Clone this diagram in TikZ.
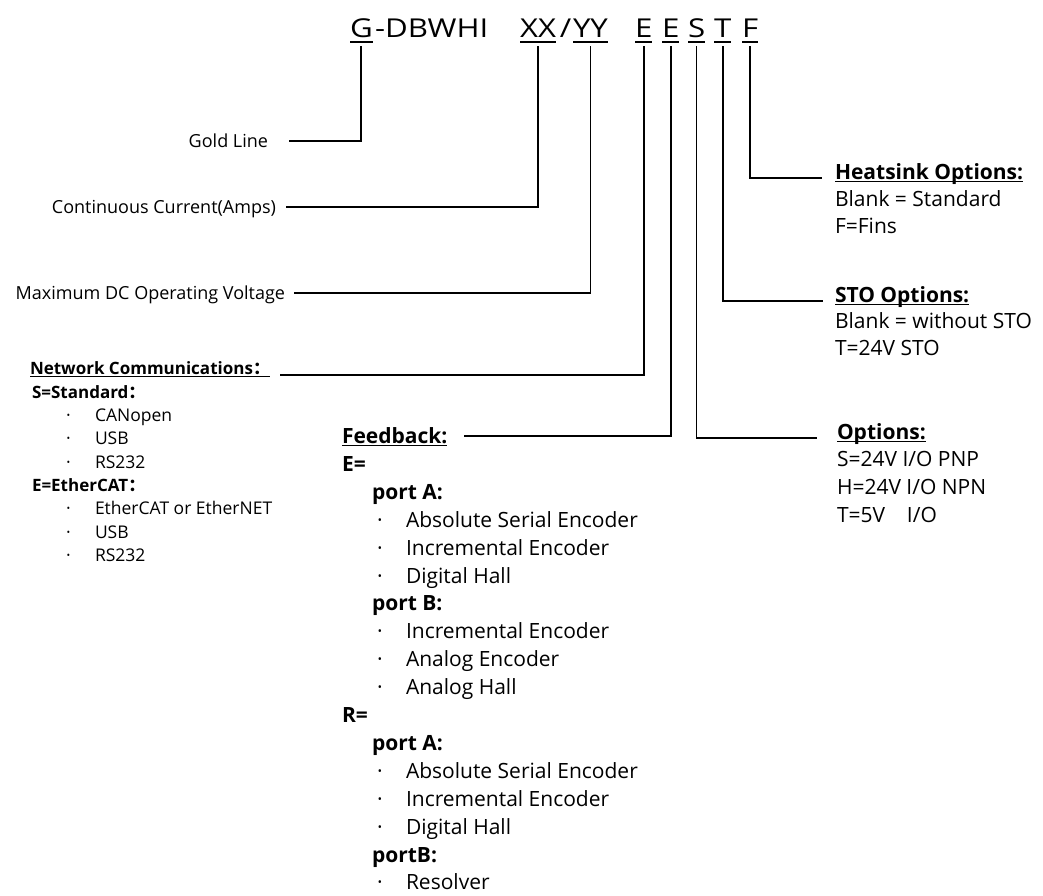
\documentclass[tikz,border=0pt]{standalone}
\usepackage{fontspec}
\setmainfont{Open Sans}
\newfontfamily\hdrfont[FakeStretch=1.2]{Open Sans}
\newfontfamily\cjk{Noto Sans CJK SC}
\usetikzlibrary{calc}
\tikzset{
  every node/.style={inner sep=0pt, outer sep=0pt},
  hdr/.style={font=\hdrfont\fontsize{26}{30}\selectfont, anchor=base west, text depth=5pt, text height=19pt},
  lbl/.style={font=\fontsize{18}{22}\selectfont, anchor=east, text height=13pt, text depth=0pt},
  bigtxt/.style={font=\fontsize{21}{25}\selectfont, anchor=west, text height=15pt, text depth=0pt},
  bigbold/.style={bigtxt, font=\fontsize{21}{25}\selectfont\bfseries},
  smltxt/.style={font=\fontsize{17.5}{21}\selectfont, anchor=west, text height=12.5pt, text depth=0pt},
  smlbold/.style={smltxt, font=\fontsize{17}{21}\selectfont\bfseries},
  conn/.style={line width=1.8pt, black},
  hul/.style={line width=1.8pt},
  tul/.style={line width=1.2pt},
}
\begin{document}
\begin{tikzpicture}[x=1pt,y=-1pt]
\useasboundingbox (0,0) rectangle (1043,895);

% ---- header code ----
\node[hdr] (G)   at (350,37) {G};
\node[hdr] (dbw) at (375,37) {-DBWHI};
\node[hdr] (XX)  at (520,37) {XX};
\node[hdr, anchor=base] (sl) at (565.5,37) {/};
\node[hdr] (YY)  at (573,37) {YY};
\node[hdr] (E1)  at (635,37) {E};
\node[hdr] (E2)  at (662,37) {E};
\node[hdr] (S)   at (688,37) {S};
\node[hdr] (T)   at (714,37) {T};
\node[hdr] (F)   at (742,37) {F};
\foreach \n in {G,XX,YY,E1,E2,S,T,F}
  \draw[hul] (\n.south west) -- (\n.south east);

% ---- left labels ----
\node[lbl] (gold) at (268,141) {Gold Line};
\node[lbl] (cur)  at (276,207) {Continuous Current(Amps)};
\node[lbl] (volt) at (285,293) {Maximum DC Operating Voltage};
\draw[conn] ([yshift=-4pt]G.south)  |- ([xshift=21pt]gold.east);
\draw[conn] ([yshift=-4pt]XX.south) |- ([xshift=10pt]cur.east);
\draw[conn] ([yshift=-4pt]YY.south) |- ([xshift=9pt]volt.east);

% ---- network communications ----
\node[smlbold] (net) at (30,368) {Network Communications\cjk\bfseries：};
\draw[tul] ([yshift=-2pt]net.south west) -- ([yshift=-2pt]net.south east);
\draw[conn] ([yshift=-4pt]E1.south) |- ([xshift=10pt,yshift=-7pt]net.east);
\node[smlbold] (nstd) at (32,392) {S=Standard\cjk\bfseries：};
\node[smlbold] (neth) at (32,485.5) {E=EtherCAT\cjk\bfseries：};
\foreach \i/\y/\t in {1/415.3/CANopen, 2/438.6/USB, 3/462/RS232,
                      4/508.6/EtherCAT or EtherNET, 5/532/USB, 6/555.3/RS232} {
  \node[smltxt] (nb\i) at (66,\y) {·};
  \node[smltxt] (ni\i) at (95,\y) {\t};
}

% ---- feedback ----
\node[bigbold] (fb) at (342,436) {Feedback:};
\draw[tul] ([yshift=-2pt]fb.south west) -- ([yshift=-2pt]fb.south east);
\draw[conn] ([yshift=-4pt]E2.south) |- ([xshift=17pt]fb.east);
\foreach \k/\t in {1/E=, 10/R=}
  \node[bigbold] (fh\k) at (342,436+27.9*\k) {\t};
\foreach \k/\t in {2/port A:, 6/port B:, 11/port A:, 15/portB:}
  \node[bigbold] (fp\k) at (372,436+27.9*\k) {\t};
\foreach \k/\t in {3/Absolute Serial Encoder, 4/Incremental Encoder, 5/Digital Hall,
                   7/Incremental Encoder, 8/Analog Encoder, 9/Analog Hall,
                   12/Absolute Serial Encoder, 13/Incremental Encoder, 14/Digital Hall,
                   16/Resolver} {
  \node[bigtxt] (fbb\k) at (377,436+27.9*\k) {·};
  \node[bigtxt] (fi\k) at (406,436+27.9*\k) {\t};
}

% ---- right side ----
\node[bigbold] (heat) at (835,172) {Heatsink Options:};
\draw[tul] ([yshift=-2pt]heat.south west) -- ([yshift=-2pt]heat.south east);
\node[bigtxt] (heat1) at (835,199) {Blank = Standard};
\node[bigtxt] (heat2) at (835,226) {F=Fins};
\draw[conn] ([yshift=-4pt]F.south) |- ([xshift=-13pt,yshift=-6pt]heat.west);

\node[bigbold] (sto) at (835,295) {STO Options:};
\draw[tul] ([yshift=-2pt]sto.south west) -- ([yshift=-2pt]sto.south east);
\node[bigtxt] (sto1) at (835,321) {Blank = without STO};
\node[bigtxt] (sto2) at (835,348) {T=24V STO};
\draw[conn] ([yshift=-4pt]T.south) |- ([xshift=-12pt,yshift=-6pt]sto.west);

\node[bigbold] (opt) at (837,432) {Options:};
\draw[tul] ([yshift=-2pt]opt.south west) -- ([yshift=-2pt]opt.south east);
\node[bigtxt] (opt1) at (837,459) {S=24V I/O PNP};
\node[bigtxt] (opt2) at (837,487) {H=24V I/O NPN};
\node[bigtxt] (opt3) at (837,515) {T=5V\ \ \ \ I/O};
\draw[conn] ([yshift=-4pt]S.south) |- ([xshift=-20pt,yshift=-6pt]opt.west);
\end{tikzpicture}
\end{document}
